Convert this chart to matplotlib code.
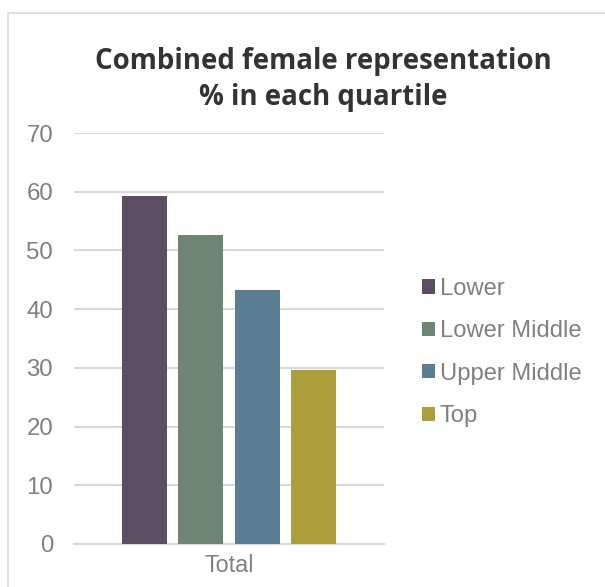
import numpy as np
import matplotlib
matplotlib.use('Agg')
import matplotlib.pyplot as plt
from matplotlib.patches import Rectangle

categories = ['Total']
quartiles = ['Lower', 'Lower Middle', 'Upper Middle', 'Top']
values = [59.3, 52.6, 43.3, 29.6]
colors = ['#5b4e63', '#6e8573', '#5a7d93', '#ad9f3c']
yticks = [0, 10, 20, 30, 40, 50, 60, 70]

plt.rcParams['font.family'] = ['Liberation Sans', 'DejaVu Sans']

W, H = 605, 587
fig = plt.figure(figsize=(W / 100, H / 100), dpi=100)
ax = fig.add_axes([74 / W, (H - 544) / H, 310 / W, (544 - 133) / H])

# outer chart border (cropped on right/bottom)
fig.add_artist(Rectangle((8 / W, -0.1), 1.2, (H - 13) / H + 0.1,
                         transform=fig.transFigure, fill=False,
                         edgecolor='#d9d9d9', linewidth=1.2))

pitch = 0.181
width = 0.145
for i, (q, v, c) in enumerate(zip(quartiles, values, colors)):
    ax.bar((i - 1.5) * pitch, v, width=width, color=c, label=q, zorder=3)

ax.set_xlim(-0.5, 0.5)
ax.set_ylim(0, 70)
ax.set_yticks(yticks)
ax.set_xticks([0])
ax.set_xticklabels(categories)
ax.yaxis.grid(True, color='#d9d9d9', linewidth=1.5, zorder=0)
for s in ['top', 'right', 'left']:
    ax.spines[s].set_visible(False)
ax.spines['bottom'].set_color('#d9d9d9')
ax.spines['bottom'].set_linewidth(1.5)
ax.tick_params(axis='both', length=0, colors='#808080')
ax.tick_params(axis='y', pad=15, labelsize=17.3)
ax.tick_params(axis='x', pad=7, labelsize=16.8)

fig.text(323 / W, 1 - 62 / H, 'Combined female representation',
         ha='center', va='center', fontsize=19.9, fontweight='bold',
         color='#333333', family='Open Sans')
fig.text(323 / W, 1 - 97 / H, '% in each quartile',
         ha='center', va='center', fontsize=19.9, fontweight='bold',
         color='#333333', family='Open Sans')

ax.legend(loc='center left', bbox_to_anchor=(422 / W, 1 - 352.5 / H),
          bbox_transform=fig.transFigure, frameon=False,
          fontsize=17.1, labelcolor='#808080', handlelength=0.55,
          handleheight=0.55, handletextpad=0.2, labelspacing=0.86,
          borderpad=0, borderaxespad=0)

fig.savefig('out.png', dpi=100)
